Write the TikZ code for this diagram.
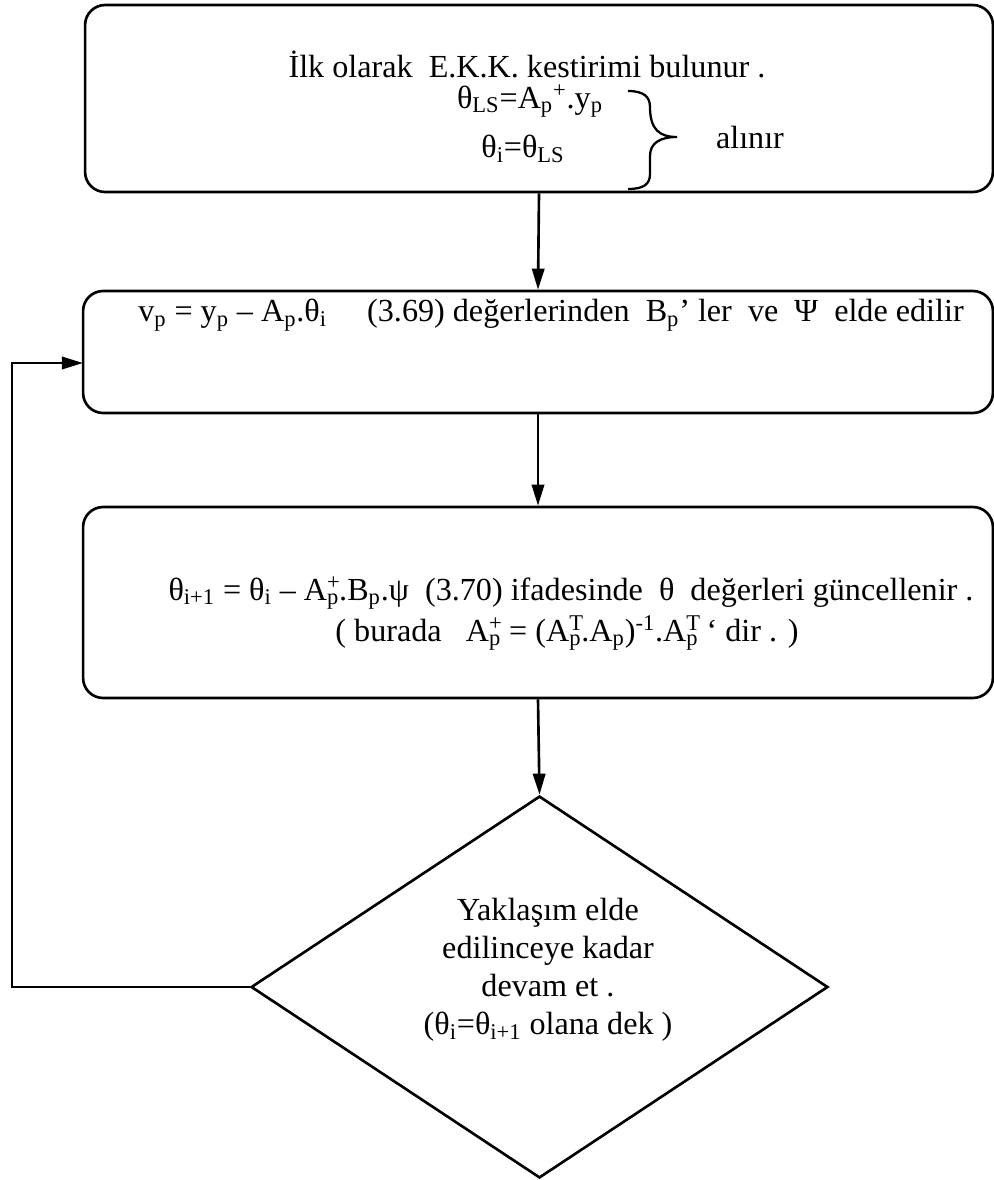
\documentclass[tikz,border=0pt]{standalone}
\usepackage{fontspec}
\setmainfont{Liberation Serif}
\usetikzlibrary{arrows.meta,shapes.geometric}
\newcommand{\stk}[2]{\rlap{\textsuperscript{#2}}\textsubscript{#1}}
\begin{document}
\begin{tikzpicture}[x=0.02cm,y=-0.02cm,
  box/.style={draw,line width=1.5pt,rounded corners=0.4cm,inner sep=0pt},
  arr/.style={-{Triangle[length=12pt,width=7pt]},line width=1.5pt},
  txt/.style={font=\fontsize{18.3}{22}\selectfont,inner sep=0pt}]
\useasboundingbox (0,0) rectangle (994,1180);

% Boxes
\node[box,minimum width=18.16cm,minimum height=3.74cm] (init) at (539,98.5) {};
\node[box,minimum width=18.2cm,minimum height=2.44cm] (resid) at (538,352) {};
\node[box,minimum width=18.2cm,minimum height=3.82cm] (update) at (538,602.5) {};
\node[draw,diamond,line width=1.5pt,inner sep=0pt,minimum width=11.54cm,minimum height=7.64cm] (conv) at (539.5,987) {};

% First box: initial estimate
\node[txt] (lsline) at (527,64) {İlk olarak\ \ E.K.K. kestirimi bulunur .};
\node[txt] (lseq) at (530,101) {θ\textsubscript{LS}=A\textsubscript{p}\textsuperscript{+}.y\textsubscript{p}};
\node[txt] (ieq) at (523,149) {θ\textsubscript{i}=θ\textsubscript{LS}};
% brace, short upper arm
\draw[line width=1.3pt] (628,91) .. controls (644,91) and (650,97) .. (650,107)
  .. controls (650,130) and (660,137) .. (677,137)
  .. controls (660,137) and (650,143) .. (650,156) -- (650,174)
  .. controls (650,184) and (644,189) .. (628,189);
\node[txt] (take) at (750,137) {alınır};

% Second box
\node[txt] (resline) at (551,315) {v\textsubscript{p} = y\textsubscript{p} -- A\textsubscript{p}.θ\textsubscript{i}\quad\ (3.69) değerlerinden\ \ B\textsubscript{p}’ ler\ \ ve\ \ Ψ\ \ elde edilir};

% Third box
\node[txt] (upline) at (571,593) {θ\textsubscript{i+1} = θ\textsubscript{i} -- A\stk{p}{+}.B\textsubscript{p}.ψ\ \ (3.70) ifadesinde\ \ θ\ \ değerleri güncellenir .};
\node[txt] (pinv) at (567,633) {( burada\ \ \ A\stk{p}{+} = (A\stk{p}{T}.A\textsubscript{p})\textsuperscript{-1}.A\stk{p}{T} ‘ dir . )};

% Decision
\node[txt,align=center,font=\fontsize{18.3}{21.6}\selectfont] (convtxt) at (548,970) {Yaklaşım elde\\edilinceye kadar\\devam et .\\(θ\textsubscript{i}=θ\textsubscript{i+1} olana dek )};

% Arrows
\draw[arr] (init.south) -- (resid.north);
\draw[arr] (resid.south) -- (update.north);
\draw[arr] (update.south) -- (conv.north);
\coordinate (loop) at (12,987);
\coordinate (back) at (83,363);
\draw[arr] (conv.west) -- (loop) |- (back);
\end{tikzpicture}
\end{document}
